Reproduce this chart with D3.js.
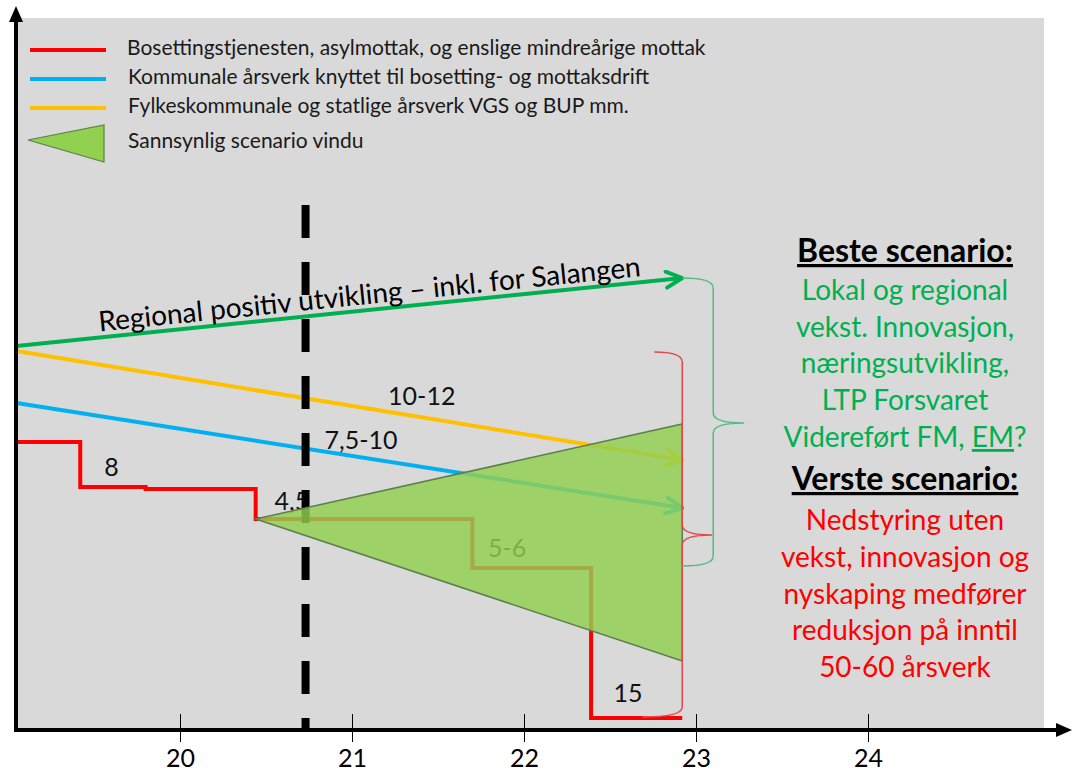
<!DOCTYPE html>
<html>
<head>
<meta charset="utf-8">
<script src="https://cdn.jsdelivr.net/npm/d3@7"></script>
<style>
  body { margin: 0; background: #fff; }
  text { font-family: Lato, "Open Sans", sans-serif; }
</style>
</head>
<body>
<svg id="chart"></svg>
<script>
const width = 1073;
const height = 773;

// x axis ticks (years)
const years = [20, 21, 22, 23, 24];

// red step line - bosetting / asylmottak
const redX = [19.05, 19.42, 19.42, 19.80, 19.80, 20.44, 20.44, 21.70, 21.70, 22.39, 22.39, 22.92];
const redY = [28.8, 28.8, 24.3, 24.3, 24.1, 24.1, 21.1, 21.1, 16.2, 16.2, 1.2, 1.2];

// straight arrows: start and end
const arrowX = [19.05, 22.92];
const greenY = [38.4, 45.2];
const yellowY = [37.9, 27.0];
const blueY = [32.7, 22.2];

// scenario window triangle
const triX = [20.44, 22.92, 22.92];
const triY = [21.1, 30.6, 6.9];

// dashed "today" line
const todayX = 20.73;
const todayY = [52.5, 0.2];

// labels along the lines
const labelText = ["8", "10-12", "7,5-10", "4,5", "5-6", "15"];
const labelX = [19.56, 21.21, 20.84, 20.55, 21.79, 22.52];
const labelY = [25.4, 32.5, 28.1, 22.0, 17.3, 2.8];

// braces: [top, tip, bottom] in y units
const redBrace = [37.8, 19.5, 1.3];
const greenBrace = [45.2, 30.7, 16.4];

const legendNames = [
  "Bosettingstjenesten, asylmottak, og enslige mindreårige mottak",
  "Kommunale årsverk knyttet til bosetting- og mottaksdrift",
  "Fylkeskommunale og statlige årsverk VGS og BUP mm.",
  "Sannsynlig scenario vindu"
];
const legendColors = ["#ff0000", "#00b0f0", "#ffc000"];

const bestLines = ["Lokal og regional", "vekst. Innovasjon,", "næringsutvikling,", "LTP Forsvaret"];
const worstLines = ["Nedstyring uten", "vekst, innovasjon og", "nyskaping medfører", "reduksjon på inntil", "50-60 årsverk"];

const svg = d3.select("#chart")
  .attr("width", width)
  .attr("height", height);

const x = d3.scaleLinear().domain([20, 24]).range([180, 868]);
const y = d3.scaleLinear().domain([0, 71.2]).range([730, 18]);

// grey plot area
svg.append("rect")
  .attr("x", 16).attr("y", 18)
  .attr("width", 1044 - 16).attr("height", 730 - 18)
  .attr("fill", "#d9d9d9");

// arrow markers
const defs = svg.append("defs");
[["green", "#00b050"], ["yellow", "#ffc000"], ["blue", "#00b0f0"]].forEach(([id, c]) => {
  defs.append("marker")
    .attr("id", "arr-" + id)
    .attr("viewBox", "0 0 20 20")
    .attr("refX", 18).attr("refY", 10)
    .attr("markerWidth", 20).attr("markerHeight", 20)
    .attr("markerUnits", "userSpaceOnUse")
    .attr("orient", "auto")
    .append("path")
    .attr("d", "M2,2 L18,10 L2,18")
    .attr("fill", "none")
    .attr("stroke", c)
    .attr("stroke-width", 4)
    .attr("stroke-linecap", "round")
    .attr("stroke-linejoin", "round");
});

// legend
const legend = svg.append("g");
legendColors.forEach((c, i) => {
  legend.append("line")
    .attr("x1", 30).attr("x2", 106)
    .attr("y1", 50 + i * 29).attr("y2", 50 + i * 29)
    .attr("stroke", c).attr("stroke-width", 4);
});
legend.append("path")
  .attr("d", "M28,140 L104,125 L104,162 Z")
  .attr("fill", "#92d050")
  .attr("stroke", "#5b7f4a").attr("stroke-width", 1.2);
legend.selectAll("text")
  .data(legendNames)
  .join("text")
  .attr("x", (d, i) => i == 0 ? 127 : 128)
  .attr("y", (d, i) => [55, 84, 113, 148][i])
  .attr("font-size", 21)
  .attr("fill", "#1a1a1a")
  .text(d => d);

const line = d3.line().x(d => x(d[0])).y(d => y(d[1]));

// straight arrows
svg.append("path")
  .attr("id", "greenPath")
  .attr("d", line(arrowX.map((v, i) => [v, greenY[i]])))
  .attr("stroke", "#00b050").attr("stroke-width", 4).attr("fill", "none")
  .attr("marker-end", "url(#arr-green)");
svg.append("path")
  .attr("d", line(arrowX.map((v, i) => [v, yellowY[i]])))
  .attr("stroke", "#ffc000").attr("stroke-width", 4).attr("fill", "none")
  .attr("marker-end", "url(#arr-yellow)");
svg.append("path")
  .attr("d", line(arrowX.map((v, i) => [v, blueY[i]])))
  .attr("stroke", "#00b0f0").attr("stroke-width", 4).attr("fill", "none")
  .attr("marker-end", "url(#arr-blue)");

// red step line
svg.append("path")
  .attr("d", line(redX.map((v, i) => [v, redY[i]])))
  .attr("stroke", "#ff0000").attr("stroke-width", 4).attr("fill", "none");

// text along green arrow
svg.append("text")
  .attr("font-size", 28)
  .attr("dy", -6)
  .append("textPath")
  .attr("href", "#greenPath")
  .attr("startOffset", 84)
  .text("Regional positiv utvikling – inkl. for Salangen");

// number labels
svg.append("g").selectAll("text")
  .data(labelText)
  .join("text")
  .attr("x", (d, i) => x(labelX[i]))
  .attr("y", (d, i) => y(labelY[i]))
  .attr("font-size", 25)
  .attr("fill", "#111")
  .text(d => d);

// dashed today line
svg.append("line")
  .attr("x1", x(todayX)).attr("x2", x(todayX))
  .attr("y1", y(todayY[0])).attr("y2", y(todayY[1]))
  .attr("stroke", "#000").attr("stroke-width", 8)
  .attr("stroke-dasharray", "33,24");

// scenario triangle
svg.append("path")
  .attr("d", line(triX.map((v, i) => [v, triY[i]])) + "Z")
  .attr("fill", "#92d050").attr("fill-opacity", 0.82)
  .attr("stroke", "#5b7f4a").attr("stroke-width", 1.5);

// braces
function brace(xs, xTip, b, xStartTop, xEndBottom) {
  const t = y(b[0]), m = y(b[1]), bt = y(b[2]);
  return `M${xStartTop},${t} Q${xs},${t} ${xs},${t + 10} L${xs},${m - 10} Q${xs},${m} ${xTip},${m}` +
    ` Q${xs},${m} ${xs},${m + 10} L${xs},${bt - 10} Q${xs},${bt} ${xEndBottom},${bt}`;
}
svg.append("path")
  .attr("d", brace(x(22.92), x(22.92) + 30, redBrace, x(22.92) - 28, x(22.92) - 40))
  .attr("fill", "none").attr("stroke", "#e8474c").attr("stroke-width", 1.5);
svg.append("path")
  .attr("d", brace(x(22.92) + 31, x(22.92) + 62, greenBrace, x(22.92), x(22.92)))
  .attr("fill", "none").attr("stroke", "#4fbf7f").attr("stroke-width", 1.5);

// axes
svg.append("line")
  .attr("x1", 16).attr("x2", 16).attr("y1", 730).attr("y2", 20)
  .attr("stroke", "#000").attr("stroke-width", 4);
svg.append("path").attr("d", "M16,6 L9,22 L23,22 Z").attr("fill", "#000");
svg.append("line")
  .attr("x1", 14).attr("x2", 1058).attr("y1", 730).attr("y2", 730)
  .attr("stroke", "#000").attr("stroke-width", 4);
svg.append("path").attr("d", "M1072,730 L1056,723 L1056,737 Z").attr("fill", "#000");

const xAxis = svg.append("g")
  .attr("transform", "translate(0,730)")
  .call(d3.axisBottom(x).tickValues(years).tickSize(12).tickPadding(0).tickFormat(d3.format("d")));
xAxis.select(".domain").remove();
xAxis.selectAll(".tick line").attr("y1", -16).attr("y2", 12).attr("stroke", "#000");
xAxis.selectAll(".tick text")
  .attr("y", 37).attr("dy", 0)
  .attr("font-size", 25)
  .attr("font-family", "Lato, sans-serif")
  .attr("fill", "#000");

// scenario text
const side = svg.append("g").attr("text-anchor", "middle");
const cx = 905;
side.append("text").attr("x", cx).attr("y", 262)
  .attr("font-size", 32).attr("font-weight", "bold")
  .attr("text-decoration", "underline")
  .text("Beste scenario:");
bestLines.forEach((t, i) => {
  side.append("text").attr("x", cx).attr("y", 300 + i * 36.7)
    .attr("font-size", 28).attr("fill", "#00b050").text(t);
});
const last = side.append("text").attr("x", cx).attr("y", 447)
  .attr("font-size", 28).attr("fill", "#00b050");
last.append("tspan").text("Videreført FM, ");
last.append("tspan").attr("text-decoration", "underline").text("EM");
last.append("tspan").text("?");
side.append("text").attr("x", cx).attr("y", 490)
  .attr("font-size", 32).attr("font-weight", "bold")
  .attr("text-decoration", "underline")
  .text("Verste scenario:");
worstLines.forEach((t, i) => {
  side.append("text").attr("x", cx).attr("y", 530 + i * 36.8)
    .attr("font-size", 28).attr("fill", "#ff0000").text(t);
});
</script>
</body>
</html>
